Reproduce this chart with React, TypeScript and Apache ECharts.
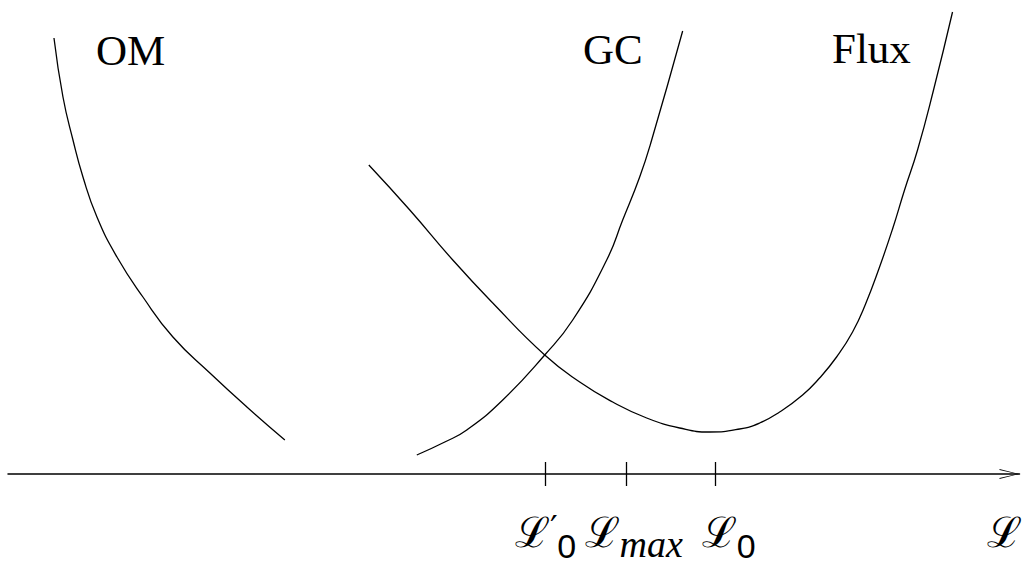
import React, { useEffect, useRef } from "react";
import * as echarts from "echarts";

// Curves (x along the ℒ axis, y = height above the axis)
const omPoints: [number, number][] = [
  [54, 436], [63, 377], [73, 334], [83, 297], [97, 257], [117, 217],
  [143, 177], [173, 137], [210, 101], [247, 67], [285, 34],
];
const gcPoints: [number, number][] = [
  [417, 19], [445, 32], [467, 44], [503, 74], [545, 119], [573, 154],
  [607, 214], [623, 254], [640, 297], [652, 334], [683, 443],
];
const fluxPoints: [number, number][] = [
  [369, 309], [410, 264], [453, 214], [493, 171], [545, 119], [580, 92],
  [613, 72], [647, 56], [680, 46], [710, 42], [740, 45], [760, 51],
  [780, 62], [803, 79], [820, 96], [837, 117], [853, 142], [866, 170],
  [880, 207], [893, 245], [905, 284], [918, 324], [934, 384], [953, 462],
];
const tickValues = [546, 627, 716];
const axisNameValue = 1005;
const curveNames = ["OM", "GC", "Flux"];

export default function App() {
  const ref = useRef<HTMLDivElement>(null);
  useEffect(() => {
    if (!ref.current) return;
    const chart = echarts.init(ref.current, undefined, { renderer: "svg" });
    const lineSeries = (name: string, data: [number, number][]) => ({
      name,
      type: "line",
      data,
      showSymbol: false,
      smooth: 0.5,
      lineStyle: { color: "#000", width: 1.3 },
      silent: true,
    });
    const rich = {
      sp: { width: 14, fontSize: 10 },
      sp2: { width: 26, fontSize: 10 },
      L: { fontFamily: "DejaVu Serif", fontSize: 42, lineHeight: 52, verticalAlign: "top", color: "#000" },
      p: { fontFamily: "DejaVu Sans", fontSize: 34, lineHeight: 30, verticalAlign: "top", width: 7, color: "#000" },
      s: { fontFamily: "Liberation Sans", fontSize: 34, lineHeight: 22, verticalAlign: "bottom", color: "#000" },
      i: { fontFamily: "Liberation Serif", fontStyle: "italic", fontSize: 38, lineHeight: 30, verticalAlign: "bottom", color: "#000" },
    };
    chart.setOption({
      animation: false,
      grid: { left: 8, right: 5, top: 0, bottom: 99 },
      xAxis: [
        {
          type: "value",
          min: 8,
          max: 1020,
          position: "bottom",
          splitLine: { show: false },
          axisLine: {
            show: true,
            onZero: false,
            lineStyle: { color: "#000", width: 1.5 },
            symbol: ["none", "path://M5,0L10,20L9,20L5,2.5L1,20L0,20Z"],
            symbolSize: [10, 20],
            symbolOffset: [0, -10],
          },
          axisTick: { show: true, customValues: tickValues, length: 12, lineStyle: { color: "#000", width: 1.3 } },
          axisLabel: {
            show: true,
            customValues: [...tickValues, axisNameValue],
            showMinLabel: true,
            showMaxLabel: true,
            hideOverlap: false,
            margin: 37,
            rich,
            formatter: (v: number) => {
              if (v === tickValues[0]) return "{L|ℒ}{p|′}{s|0}";
              if (v === tickValues[1]) return "{sp| }{L|ℒ}{i|max}";
              if (v === tickValues[2]) return "{sp2| }{L|ℒ}{s|0}";
              return "{L|ℒ}";
            },
          },
        },
        {
          type: "value",
          min: 8,
          max: 1020,
          position: "bottom",
          splitLine: { show: false },
          axisLine: { show: false, onZero: false },
          axisTick: { show: true, inside: true, customValues: tickValues, length: 12, lineStyle: { color: "#000", width: 1.3 } },
          axisLabel: { show: false },
        },
      ],
      yAxis: { type: "value", min: 0, max: 474, show: false },
      series: [
        lineSeries(curveNames[0], omPoints),
        lineSeries(curveNames[1], gcPoints),
        lineSeries(curveNames[2], fluxPoints),
      ],
      graphic: [
        { type: "text", x: 96, y: 50, style: { text: curveNames[0], font: "43px 'Liberation Serif'", fill: "#000", verticalAlign: "middle" } },
        { type: "text", x: 583, y: 49, style: { text: curveNames[1], font: "43px 'Liberation Serif'", fill: "#000", verticalAlign: "middle" } },
        { type: "text", x: 832, y: 48, style: { text: curveNames[2], font: "43px 'Liberation Serif'", fill: "#000", verticalAlign: "middle" } },
      ],
    });
    return () => chart.dispose();
  }, []);
  return <div ref={ref} style={{ position: "absolute", left: 0, top: 0, width: 1025, height: 573, background: "#fff" }} />;
}
